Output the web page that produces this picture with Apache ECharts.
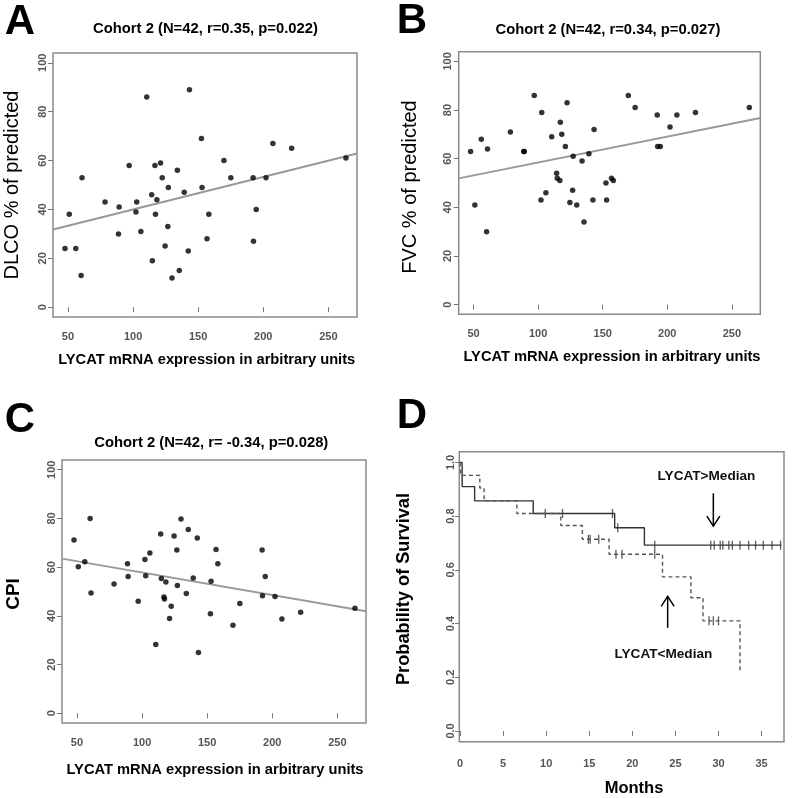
<!DOCTYPE html>
<html><head><meta charset="utf-8">
<script src="https://cdn.jsdelivr.net/npm/echarts@6/dist/echarts.min.js"></script>
<style>html,body{margin:0;padding:0;background:#fff}#c{width:797px;height:798px}</style>
</head><body><div id="c"></div>
<script>
// ---- data ----
const lycat = [47.7,51,56,60.1,60.8,78.5,88.8,89.3,97,102.2,102.8,106,110.5,114.3,114.8,116.8,117.2,118.3,121.1,122.4,124.6,126.7,127.1,129.9,134,135.5,139.3,142.4,143.3,152.5,153,156.8,158.2,169.8,175.1,192.2,192.5,194.6,202.1,207.4,221.8,263.5];
const dlco = [24,38,24,13,53,43,30,41,58,39,43,31,86,46,19,58,38,44,59,53,25,33,49,12,56,15,47,23,89,69,49,28,38,60,53,53,27,40,53,67,65,61];
const fvc = [63,41,68,30,64,71,63,63,86,43,79,46,69,54,52,51,75,70,65,83,42,47,61,41,59,34,62,43,72,50,43,52,51,86,81,78,65,65,73,78,79,81];
const cpi = [71.1,60.2,62.2,80,49.4,53.1,61.4,56.2,46,63.1,56.5,65.8,28.2,73.6,55.3,47.7,46.9,53.9,38.9,43.9,72.8,67,52.5,79.8,49.2,75.5,55.5,72,25,40.9,54.2,67.2,61.4,36.1,45.1,67,48.3,56.2,47.9,38.7,41.5,43.1];
const fitDlco = [[38.5,31.8],[272,62.9]];
const fitFvc = [[38.5,51.9],[272,76.7]];
const fitCpi = [[38.5,63.5],[272,41.9]];
const scatterTicksX = [50,100,150,200,250];
const scatterTicksY = [0,20,40,60,80,100];
const kmTicksX = [0,5,10,15,20,25,30,35];
const kmTicksY = [0,0.2,0.4,0.6,0.8,1.0];
const highTime = [0,0.25,1.7,8.5,17.95,21.4,37.3];
const highSurv = [1.0,0.91,0.857,0.81,0.757,0.692,0.692];
const highCensor = [9.9,11.9,17.7,18.3,22.6,29.1,29.5,30.2,30.5,31.2,31.6,32.5,33.5,34.3,35.2,36.2,37.2];
const lowTime = [0,0.1,2.3,2.8,6.6,11.7,14.2,17.3,23.5,26.8,28.2,32.5];
const lowSurv = [1.0,0.952,0.905,0.857,0.81,0.765,0.714,0.658,0.574,0.496,0.41,0.216];
const lowCensor = [14.9,15.1,16.1,18.1,18.8,22.6,28.9,29.4,30.0];
const panelTitles = ['Cohort 2 (N=42, r=0.35, p=0.022)','Cohort 2 (N=42, r=0.34, p=0.027)','Cohort 2 (N=42, r= -0.34, p=0.028)'];
const xName = 'LYCAT mRNA expression in arbitrary units';
const yNames = ['DLCO % of predicted','FVC % of predicted','CPI'];
const kmLabels = ['LYCAT>Median','LYCAT<Median'];

function survAt(times, surv, t){ let v = surv[0]; for (let i=0;i<times.length;i++){ if (times[i] <= t) v = surv[i]; } return v; }

const chart = echarts.init(document.getElementById('c'), null, {renderer:'canvas'});
const FF = '"Liberation Sans", Arial, sans-serif';
const gridBase = {show:true, borderColor:'#8a8a8a', borderWidth:1.5, backgroundColor:'transparent', containLabel:false};
const grids = [
  Object.assign({left:53, top:53, width:304, height:264}, gridBase),
  Object.assign({left:458.7, top:51.7, width:301.6, height:262.6}, gridBase),
  Object.assign({left:62, top:460, width:304, height:263}, gridBase),
  Object.assign({left:459.3, top:451.7, width:324.7, height:290}, gridBase)
];
function xAx(gi, min, max, ticks, margin, fmt){
  return {gridIndex:gi, type:'value', min:min, max:max, splitLine:{show:false}, axisLine:{show:false},
    axisTick:{show:true, customValues:ticks, length:5, lineStyle:{color:'#777', width:1}},
    axisLabel:{customValues:ticks, margin:margin, fontSize:11, color:'#555', fontWeight:'bold', fontFamily:FF, formatter:fmt}};
}
function yAx(gi, min, max, ticks, margin, fmt){
  return {gridIndex:gi, type:'value', min:min, max:max, splitLine:{show:false}, axisLine:{show:false},
    axisTick:{show:true, customValues:ticks, length:5, lineStyle:{color:'#777', width:1}},
    axisLabel:{customValues:ticks, rotate:90, margin:margin, fontSize:11, color:'#555', fontWeight:'bold', fontFamily:FF, formatter:fmt}};
}
const ys = [dlco, fvc, cpi];
const fits = [fitDlco, fitFvc, fitCpi];
const series = [];
for (let g=0; g<3; g++){
  series.push({type:'scatter', xAxisIndex:g, yAxisIndex:g, data:lycat.map((x,i)=>[x, ys[g][i]]), symbol:'circle', symbolSize:5.5, itemStyle:{color:'#000'}, silent:true, z:3});
  series.push({type:'line', xAxisIndex:g, yAxisIndex:g, data:fits[g], symbol:'none', lineStyle:{color:'#999', width:2}, silent:true, z:2});
}
series.push({type:'line', xAxisIndex:3, yAxisIndex:3, step:'end', data:highTime.map((t,i)=>[t, highSurv[i]]), symbol:'none', lineStyle:{color:'#333', width:1.4}, silent:true});
series.push({type:'line', xAxisIndex:3, yAxisIndex:3, step:'end', data:lowTime.map((t,i)=>[t, lowSurv[i]]), symbol:'none', lineStyle:{color:'#555', width:1.4, type:[4,3]}, silent:true});
series.push({type:'scatter', xAxisIndex:3, yAxisIndex:3, data:highCensor.map(t=>[t, survAt(highTime, highSurv, t)]), symbol:'rect', symbolSize:[1.3,9], itemStyle:{color:'#333'}, silent:true});
series.push({type:'scatter', xAxisIndex:3, yAxisIndex:3, data:lowCensor.map(t=>[t, survAt(lowTime, lowSurv, t)]), symbol:'rect', symbolSize:[1.3,9], itemStyle:{color:'#333'}, silent:true});
// arrows (x, from, to) in data space
series.push({type:'custom', xAxisIndex:3, yAxisIndex:3, silent:true, data:[[29.4,0.885,0.763],[24.1,0.384,0.501]],
  renderItem:function(params, api){
    const p1 = api.coord([api.value(0), api.value(1)]);
    const p2 = api.coord([api.value(0), api.value(2)]);
    const dir = p2[1] > p1[1] ? 1 : -1;
    return {type:'group', children:[
      {type:'line', shape:{x1:p1[0], y1:p1[1], x2:p2[0], y2:p2[1]}, style:{stroke:'#000', lineWidth:1.5}},
      {type:'polyline', shape:{points:[[p2[0]-6.5, p2[1]-dir*10],[p2[0], p2[1]],[p2[0]+6.5, p2[1]-dir*10]]}, style:{stroke:'#000', lineWidth:1.5, fill:null}}
    ]};
  }});
series.push({type:'custom', xAxisIndex:3, yAxisIndex:3, silent:true, data:[[28.6,0.949],[23.6,0.285]],
  renderItem:function(params, api){
    const p = api.coord([api.value(0), api.value(1)]);
    return {type:'text', x:p[0], y:p[1], style:{text:kmLabels[params.dataIndex], align:'center', verticalAlign:'middle', font:'bold 13.6px '+FF, fill:'#111'}};
  }});

function txt(x, y, s, font, rot){
  return {type:'text', x:x, y:y, rotation:rot||0, silent:true, style:{text:s, font:font, fill:'#000', align:'center', verticalAlign:'middle'}};
}
const graphic = [
  txt(20, 22, 'A', 'bold 42px '+FF), txt(412, 21, 'B', 'bold 42px '+FF),
  txt(20, 420, 'C', 'bold 42px '+FF), txt(412, 416, 'D', 'bold 42px '+FF),
  txt(205.5, 28.5, panelTitles[0], 'bold 14.8px '+FF),
  txt(608, 29.5, panelTitles[1], 'bold 14.8px '+FF),
  txt(211.3, 443, panelTitles[2], 'bold 14.8px '+FF),
  txt(206.7, 360, xName, 'bold 14.7px '+FF),
  txt(612, 357, xName, 'bold 14.7px '+FF),
  txt(215, 770, xName, 'bold 14.7px '+FF),
  txt(12, 185, yNames[0], '20px '+FF, Math.PI/2),
  txt(410.5, 187, yNames[1], '20px '+FF, Math.PI/2),
  txt(13.5, 594, yNames[2], 'bold 19px '+FF, Math.PI/2),
  txt(404, 589, 'Probability of Survival', 'bold 18.2px '+FF, Math.PI/2),
  txt(634, 788, 'Months', 'bold 16.5px '+FF)
];
chart.setOption({
  animation:false, backgroundColor:'#fff',
  grid:grids,
  xAxis:[xAx(0,38.5,272,scatterTicksX,14), xAx(1,38.5,272,scatterTicksX,14), xAx(2,38.5,272,scatterTicksX,14), xAx(3,-0.08,37.6,kmTicksX,17)],
  yAxis:[yAx(0,-4,104,scatterTicksY,5), yAx(1,-4,104,scatterTicksY,5), yAx(2,-4,104,scatterTicksY,5), yAx(3,-0.04,1.04,kmTicksY,3,v=>v.toFixed(1))],
  series:series,
  graphic:graphic
});
</script></body></html>
